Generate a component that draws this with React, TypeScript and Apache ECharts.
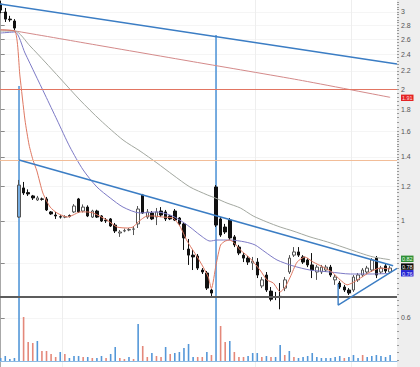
import React, { useEffect, useRef } from 'react';
import * as echarts from 'echarts';

// [open, close, low, high]
const candles: number[][] = [
  [3.13, 3.03, 2.98, 3.18],
  [3.0, 2.89, 2.846, 3.064],
  [2.89, 2.88, 2.85, 2.94],
  [2.861, 2.757, 2.729, 2.89],
  [1.02, 1.207, 1.015, 1.24],
  [1.189, 1.158, 1.146, 1.227],
  [1.16, 1.152, 1.14, 1.18],
  [1.14, 1.128, 1.116, 1.146],
  [1.116, 1.128, 1.11, 1.14],
  [1.122, 1.12, 1.112, 1.13],
  [1.122, 1.059, 1.053, 1.134],
  [1.048, 1.037, 1.032, 1.053],
  [1.031, 1.026, 1.01, 1.048],
  [1.022, 1.02, 1.012, 1.03],
  [1.02, 1.022, 1.014, 1.03],
  [1.028, 1.024, 1.018, 1.034],
  [1.048, 1.081, 1.042, 1.092],
  [1.122, 1.048, 1.042, 1.128],
  [1.053, 1.075, 1.045, 1.09],
  [1.075, 1.026, 1.02, 1.085],
  [1.02, 1.053, 1.015, 1.06],
  [1.053, 1.02, 1.015, 1.06],
  [1.026, 0.999, 0.994, 1.031],
  [1.004, 1.0, 0.989, 1.015],
  [1.01, 0.973, 0.968, 1.015],
  [0.978, 0.948, 0.938, 0.989],
  [0.938, 0.943, 0.919, 0.953],
  [0.948, 0.95, 0.942, 0.96],
  [0.953, 0.955, 0.947, 0.963],
  [0.957, 0.958, 0.928, 0.973],
  [0.984, 1.064, 0.963, 1.081],
  [1.146, 1.042, 1.037, 1.152],
  [1.02, 1.048, 1.01, 1.064],
  [1.042, 1.01, 1.004, 1.053],
  [1.02, 1.048, 0.978, 1.07],
  [1.053, 1.031, 1.02, 1.075],
  [1.048, 1.01, 0.999, 1.059],
  [1.026, 1.01, 1.004, 1.031],
  [1.053, 1.004, 0.999, 1.064],
  [1.015, 0.984, 0.973, 1.02],
  [0.984, 0.914, 0.858, 0.994],
  [0.862, 0.835, 0.793, 0.909],
  [0.835, 0.827, 0.772, 0.858],
  [0.831, 0.78, 0.772, 0.84],
  [0.772, 0.764, 0.756, 0.78],
  [0.76, 0.702, 0.695, 0.768],
  [0.695, 0.684, 0.673, 0.699],
  [1.195, 0.978, 0.968, 1.207],
  [1.01, 0.928, 0.919, 1.02],
  [0.968, 0.943, 0.933, 0.984],
  [1.004, 0.914, 0.904, 1.015],
  [0.919, 0.881, 0.871, 0.928],
  [0.871, 0.844, 0.835, 0.881],
  [0.835, 0.822, 0.805, 0.844],
  [0.822, 0.805, 0.793, 0.831],
  [0.801, 0.809, 0.772, 0.827],
  [0.805, 0.752, 0.74, 0.822],
  [0.71, 0.733, 0.702, 0.744],
  [0.752, 0.695, 0.688, 0.764],
  [0.691, 0.662, 0.655, 0.706],
  [0.67, 0.668, 0.659, 0.688],
  [0.672, 0.668, 0.628, 0.721],
  [0.702, 0.733, 0.691, 0.744],
  [0.764, 0.822, 0.756, 0.835],
  [0.835, 0.849, 0.827, 0.871],
  [0.849, 0.835, 0.827, 0.871],
  [0.827, 0.805, 0.797, 0.835],
  [0.814, 0.793, 0.784, 0.822],
  [0.793, 0.772, 0.74, 0.844],
  [0.764, 0.784, 0.733, 0.793],
  [0.764, 0.784, 0.756, 0.793],
  [0.772, 0.784, 0.764, 0.793],
  [0.784, 0.752, 0.744, 0.793],
  [0.733, 0.744, 0.714, 0.752],
  [0.721, 0.706, 0.699, 0.729],
  [0.706, 0.695, 0.688, 0.714],
  [0.695, 0.684, 0.677, 0.702],
  [0.695, 0.744, 0.688, 0.752],
  [0.733, 0.752, 0.725, 0.76],
  [0.752, 0.772, 0.744, 0.78],
  [0.764, 0.78, 0.756, 0.789],
  [0.772, 0.814, 0.764, 0.822],
  [0.822, 0.752, 0.74, 0.831],
  [0.764, 0.78, 0.756, 0.789],
  [0.789, 0.768, 0.76, 0.797],
  [0.764, 0.78, 0.756, 0.789],
];

const volumes: number[] = [
  3, 5, 2, 3, 275, 44, 19, 18, 20, 10,
  10, 7, 4, 9, 7, 3, 5, 5, 4, 4,
  3, 3, 5, 3, 7, 14, 3, 2, 4, 2,
  37, 15, 4, 8, 5, 4, 14, 7, 8, 9,
  13, 17, 4, 4, 4, 9, 6, 326, 35, 19,
  20, 9, 4, 4, 5, 8, 8, 4, 5, 4,
  4, 16, 6, 10, 4, 3, 4, 5, 8, 4,
  3, 3, 3, 4, 5, 3, 4, 6, 3, 6,
  4, 5, 6, 5, 4, 6,
];
// 1 = blue, 0 = red
const volumeUp: number[] = [
  1, 1, 1, 1, 1, 0, 0, 0, 1, 0,
  0, 0, 0, 1, 0, 1, 1, 1, 0, 1,
  0, 1, 1, 0, 1, 1, 0, 0, 1, 0,
  1, 0, 0, 1, 0, 0, 1, 0, 1, 1,
  1, 1, 1, 0, 0, 1, 0, 1, 0, 0,
  1, 0, 0, 0, 1, 1, 1, 0, 1, 0,
  1, 1, 0, 1, 0, 1, 1, 1, 1, 1,
  1, 1, 1, 1, 1, 0, 1, 1, 1, 0,
  1, 1, 1, 1, 1, 1,
];

// moving averages as [bar position, price]
const ma200: number[][] = [[0, 2.735], [3, 2.716], [20, 2.531], [43, 2.3], [65, 2.099], [85, 1.915]];
const maSlow: number[][] = [
  [0, 2.714], [3.1, 2.714], [6.4, 2.509], [9.7, 2.306], [12.9, 2.12], [17.3, 1.888], [21.7, 1.7],
  [26.7, 1.53], [30.4, 1.444], [34.1, 1.356], [37.6, 1.273], [41.3, 1.195], [45.1, 1.146],
  [46.8, 1.128], [49.4, 1.098], [52.3, 1.07], [55.1, 1.026], [58.1, 0.994], [61, 0.968],
  [63.8, 0.948], [67.5, 0.919], [71.3, 0.895], [74.7, 0.871], [78.5, 0.844], [81.3, 0.827], [85, 0.815],
];
const maMid: number[][] = [
  [0, 2.686], [3.1, 2.7], [5.3, 2.418], [7.5, 2.165], [9.7, 1.939], [12.3, 1.7], [15.1, 1.475],
  [18, 1.307], [21, 1.195], [23.9, 1.128], [26.7, 1.075], [30.4, 1.042], [34.1, 1.048], [37, 1.031],
  [39.1, 1.004], [41.3, 0.968], [43.5, 0.928], [45.7, 0.899], [47.2, 0.904], [50.1, 0.904],
  [53.3, 0.895], [55.5, 0.881], [57.7, 0.849], [60.3, 0.814], [63.8, 0.789], [67.5, 0.772],
  [71.9, 0.764], [76.3, 0.756], [80.6, 0.756], [85, 0.758],
];
const maFast: number[][] = [
  [0, 2.729], [3.1, 2.714], [4.2, 2.142], [5.3, 1.7], [6.2, 1.49], [7.05, 1.377], [7.9, 1.3],
  [9.2, 1.158], [10.8, 1.075], [12.3, 1.042], [14.5, 1.02], [15.8, 1.031], [17.3, 1.048],
  [18.8, 1.048], [20.2, 1.042], [23.2, 1.004], [25.4, 0.968], [27.6, 0.963], [28.9, 0.968],
  [30, 0.994], [32, 1.026], [33.3, 1.026], [35.4, 1.02], [37.6, 1.015], [39.1, 0.973],
  [40.7, 0.899], [42.9, 0.827], [44.2, 0.784], [45.3, 0.744], [46, 0.7], [47, 0.793],
  [48, 0.881], [49, 0.899], [50, 0.904], [51, 0.89], [52.3, 0.858], [54.4, 0.822],
  [56.6, 0.772], [58.1, 0.733], [59.5, 0.721], [61, 0.688], [62.1, 0.706], [63.2, 0.744],
  [64.7, 0.805], [66.4, 0.827], [68.2, 0.805], [70.4, 0.784], [72.3, 0.764], [74.1, 0.733],
  [75.6, 0.714], [76.7, 0.721], [78.5, 0.74], [80.6, 0.764], [82.8, 0.78], [85, 0.776],
];

const trendTop: number[][] = [[-0.5, 3.133], [86.5, 2.282]];
const trendMid: number[][] = [[4, 1.377], [85.66, 0.79]];
const trendTri: number[][] = [[73.65, 0.717], [73.65, 0.642], [86.5, 0.779]];

const levels = [
  { price: 2.0, color: '#e27562', width: 1 },
  { price: 1.38, color: '#f2bd98', width: 1 },
  { price: 0.673, color: '#5c5c5c', width: 2 },
];

// 0.8 carries a tick but its label sits under the price tags, as in the original
const tickValues: number[] = [0.6, 0.8, 1, 1.2, 1.4, 1.6, 1.8, 2, 2.2, 2.4, 2.6, 2.8, 3];
const tickLabels: number[] = [0.6, 1, 1.2, 1.4, 1.6, 1.8, 2, 2.2, 2.4, 2.6, 2.8, 3];
const minorTicks: number[] = [];
for (let v = 48; v <= 160; v += 2) minorTicks.push(v / 100);
for (let v = 164; v <= 318; v += 4) minorTicks.push(v / 100);

const tags = [
  { text: '1.91', at: 1.91, bg: '#e42424', fg: '#ffd8d8' },
  { text: '0.82', at: 0.819, bg: '#2f8f35', fg: '#e8ffe8' },
  { text: '0.78', at: 0.786, bg: '#0a0a0a', fg: '#ffffff' },
  { text: '0.76', at: 0.759, bg: '#2424d2', fg: '#e8e8ff' },
];

const vGrid: number[] = [13.5, 55.5, 76.5];

const N = 87;
const categories = Array.from({ length: N }, (_, i) => String(i));
const L = Math.log;
const YMIN = -0.7689;
const YMAX = 1.1617;
const TREND = '#3b7dc4';

const lineSeries = (data: number[][], color: string, width = 1, smooth: number | boolean = 0.25, z = 4) => ({
  type: 'line',
  xAxisIndex: 2,
  yAxisIndex: 0,
  data: data.map(([n, p]) => [n, L(p)]),
  symbol: 'none',
  smooth,
  lineStyle: { color, width },
  silent: true,
  z,
});

export default function App() {
  const ref = useRef<HTMLDivElement>(null);
  useEffect(() => {
    document.body.style.margin = '0';
    const chart = echarts.init(ref.current!, undefined, { renderer: 'svg' });
    const grid = { left: -1.6, right: 23, top: 0, bottom: 0, outerBoundsMode: 'none', containLabel: false };
    const option: any = {
      animation: false,
      grid: [grid, { ...grid, bottom: 6 }],
      xAxis: [
        { type: 'category', gridIndex: 0, data: categories, boundaryGap: true, show: false },
        {
          type: 'category', gridIndex: 1, data: categories, boundaryGap: true, show: true, position: 'bottom',
          axisLine: { show: true, lineStyle: { color: '#8dbbe4', width: 1 } },
          axisTick: { show: false }, axisLabel: { show: false }, splitLine: { show: false },
        },
        {
          type: 'value', gridIndex: 0, min: -0.5, max: 86.5, position: 'bottom', show: true,
          axisLine: { show: false }, axisTick: { show: false, customValues: vGrid }, axisLabel: { show: false },
          splitLine: { show: true, lineStyle: { color: '#eeeeee', width: 1 } },
        },
      ],
      yAxis: [
        {
          type: 'value', gridIndex: 0, position: 'right', min: YMIN, max: YMAX, scale: true,
          axisLine: { show: true, lineStyle: { color: '#a8a8a8', width: 1 } },
          axisTick: { show: true, length: 4, customValues: tickValues.map(L), lineStyle: { color: '#888' } },
          axisLabel: {
            show: true, customValues: tickLabels.map(L), margin: 4, fontSize: 7,
            fontFamily: 'Liberation Sans', color: '#555',
            formatter: (v: number) => String(Math.round(Math.exp(v) * 10) / 10),
          },
          splitLine: { show: true, lineStyle: { color: '#f5f5f5', width: 1 } },
        },
        {
          type: 'value', gridIndex: 0, position: 'right', min: YMIN, max: YMAX, scale: true,
          axisLine: { show: false },
          axisTick: { show: true, length: 2, customValues: minorTicks.map(L), lineStyle: { color: '#999' } },
          axisLabel: { show: false }, splitLine: { show: false },
        },
        { type: 'value', gridIndex: 1, min: 0, max: 361, show: false },
      ],
      series: [
        {
          type: 'bar', xAxisIndex: 1, yAxisIndex: 2, barWidth: 1.6, silent: true, z: 1,
          data: volumes.map((v, i) => ({ value: v, itemStyle: { color: volumeUp[i] ? '#5497d8' : '#e4887a' } })),
        },
        {
          type: 'candlestick', xAxisIndex: 0, yAxisIndex: 0, barWidth: 3, silent: true, z: 3,
          data: candles.map((c) => c.map(L)),
          itemStyle: {
            color: 'rgba(255,255,255,0)', color0: '#111111',
            borderColor: '#555555', borderColor0: '#111111', borderWidth: 1,
          },
          markLine: {
            silent: true, symbol: ['none', 'none'], label: { show: false }, animation: false,
            data: levels.map((l) => ({ yAxis: L(l.price), lineStyle: { color: l.color, width: l.width, type: 'solid' } })),
          },
        },
        lineSeries(ma200, '#d48a8a', 1, 0.2),
        lineSeries(maSlow, '#a3a8a0', 1, 0.25),
        lineSeries(maMid, '#7d7ac6', 1, 0.25),
        lineSeries(maFast, '#df7862', 1, 0.2),
        lineSeries(trendTop, TREND, 1.6, false, 6),
        lineSeries(trendMid, TREND, 1.6, false, 6),
        lineSeries(trendTri, TREND, 1.4, false, 6),
      ],
    };
    chart.setOption(option);
    const els = tags.map((t) => {
      const py = chart.convertToPixel({ yAxisIndex: 0 }, L(t.at)) as number;
      return {
        type: 'group',
        z: 100,
        children: [
          { type: 'rect', z: 100, shape: { x: 401, y: py - 3.2, width: 12.5, height: 6.4 }, style: { fill: t.bg } },
          {
            type: 'text', z: 101,
            style: { text: t.text, x: 407.25, y: py + 0.3, fill: t.fg, font: '5.5px "Liberation Sans"', align: 'center', verticalAlign: 'middle' },
          },
        ],
      };
    });
    chart.setOption({ graphic: els });
    return () => chart.dispose();
  }, []);
  return (
    <div
      ref={ref}
      style={{
        width: 420,
        height: 367,
        background: 'linear-gradient(to right, #ffffff 0px, #ffffff 397px, #eeeeee 397px, #eeeeee 420px)',
      }}
    />
  );
}
